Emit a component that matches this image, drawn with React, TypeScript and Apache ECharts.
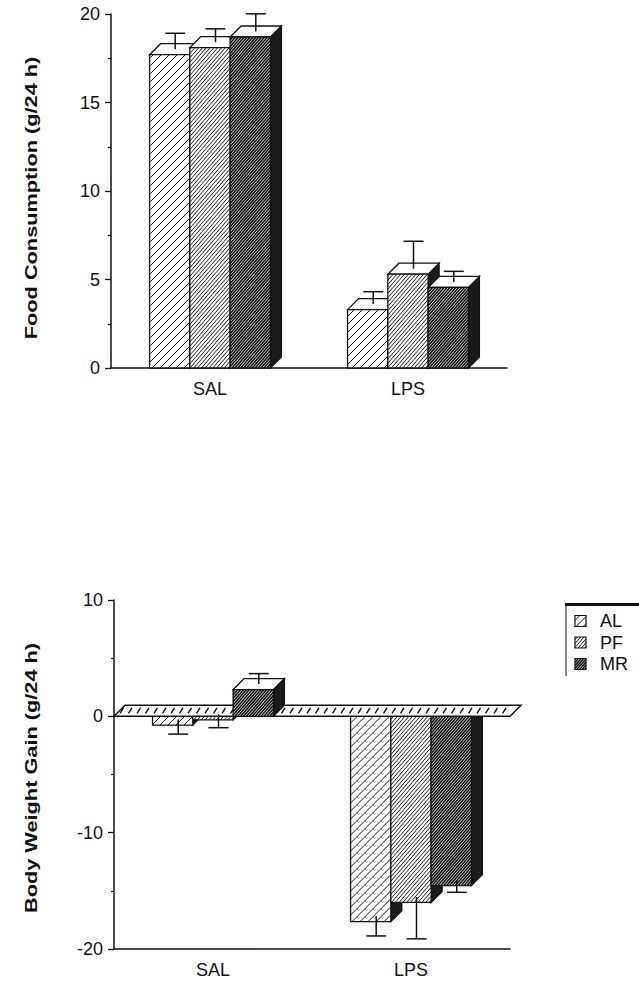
import React, { useEffect, useRef } from 'react';
import * as echarts from 'echarts';

// ---------- data ----------
const categories = ['SAL', 'LPS'];
const groups = ['AL', 'PF', 'MR'];

const foodTicks = [0, 5, 10, 15, 20];
const gainTicks = [-20, -10, 0, 10];

const foodAL = [17.7, 3.3];
const foodPF = [18.1, 5.3];
const foodMR = [18.7, 4.55];
const foodErrAL = [0.9, 0.7];
const foodErrPF = [0.75, 1.55];
const foodErrMR = [1.0, 0.6];

const gainAL = [-0.75, -17.65];
const gainPF = [-0.3, -16.0];
const gainMR = [2.3, -14.55];
const gainErrAL = [1.25, 1.7];
const gainErrPF = [1.15, 3.6];
const gainErrMR = [0.9, 1.05];

const foodTitle = 'Food Consumption (g/24 h)';
const gainTitle = 'Body Weight Gain (g/24 h)';

// ---------- style ----------
const FONT = '"Liberation Sans", Arial, Helvetica, sans-serif';
const INK = '#111';
const DEPTH = 11;
const BAR_FRAC = 0.2035;
const CAP = 10;
const HATCH = [
  { spacing: 8, width: 1.0, slope: 1.0 },
  { spacing: 3.8, width: 0.95, slope: 1.15 },
  { spacing: 2.9, width: 1.6, slope: 1.15 },
];

function hatchSegments(x0: number, y0: number, x1: number, y1: number, spacing: number, slope: number) {
  const segs: number[][] = [];
  const span = (y1 - y0) / slope;
  const start = Math.floor((x0 - span) / spacing) * spacing;
  for (let u = start; u <= x1; u += spacing) {
    const tlo = Math.max(0, x0 - u);
    const thi = Math.min(span, x1 - u);
    if (thi - tlo < 0.4) continue;
    segs.push([u + tlo, y1 - slope * tlo, u + thi, y1 - slope * thi]);
  }
  return segs;
}

function segsToPath(segs: number[][]) {
  return segs
    .map((s) => `M${s[0].toFixed(2)} ${s[1].toFixed(2)}L${s[2].toFixed(2)} ${s[3].toFixed(2)}`)
    .join('');
}

function makeBarRenderer(gi: number) {
  return (params: any, api: any) => {
    const ci = api.value(0);
    const v = api.value(1);
    const se = api.value(2);
    const band = api.size([1, 0])[0];
    const bw = band * BAR_FRAC;
    const c = api.coord([ci, v]);
    const yv = c[1];
    const y0 = api.coord([ci, 0])[1];
    const x0 = c[0] + (gi - 1.5) * bw;
    const x1 = x0 + bw;
    const d = DEPTH;
    const pos = v >= 0;
    const base = (pos ? 100 : 10) + gi * 6;
    const top = Math.min(yv, y0);
    const bot = Math.max(yv, y0);
    const p = HATCH[gi];
    const children: any[] = [];
    children.push({
      type: 'polygon',
      shape: { points: [[x1, yv], [x1 + d, yv - d], [x1 + d, y0 - d], [x1, y0]] },
      style: { fill: '#1a1a1a', stroke: INK, lineWidth: 1.2 },
      z2: base,
    });
    if (pos) {
      children.push({
        type: 'polygon',
        shape: { points: [[x0, yv], [x0 + d, yv - d], [x1 + d, yv - d], [x1, yv]] },
        style: { fill: '#fff', stroke: INK, lineWidth: 1.3 },
        z2: base + 1,
      });
    }
    children.push({
      type: 'rect',
      shape: { x: x0, y: top, width: bw, height: bot - top },
      style: { fill: '#fff', stroke: null },
      z2: base + 2,
    });
    children.push({
      type: 'path',
      shape: { pathData: segsToPath(hatchSegments(x0, top, x1, bot, p.spacing, p.slope)) },
      style: { fill: null, stroke: INK, lineWidth: p.width },
      z2: base + 3,
    });
    children.push({
      type: 'rect',
      shape: { x: x0, y: top, width: bw, height: bot - top },
      style: { fill: null, stroke: INK, lineWidth: 1.3 },
      z2: base + 4,
    });
    const ex = (x0 + x1) / 2 + d / 2;
    const ey0 = yv - d / 2;
    const ey1 = api.coord([ci, pos ? v + se : v - se])[1] - d / 2;
    children.push({
      type: 'line',
      shape: { x1: ex, y1: ey0, x2: ex, y2: ey1 },
      style: { stroke: INK, lineWidth: 1.5 },
      z2: 300,
    });
    children.push({
      type: 'line',
      shape: { x1: ex - CAP, y1: ey1, x2: ex + CAP, y2: ey1 },
      style: { stroke: INK, lineWidth: 1.5 },
      z2: 300,
    });
    return { type: 'group', children };
  };
}

function slabRenderer(params: any, api: any) {
  const cs = params.coordSys;
  const y0 = api.coord([0, 0])[1];
  const d = DEPTH;
  const xl = cs.x;
  const xr = cs.x + cs.width;
  let marks = '';
  for (let x = xl + 6; x < xr - 1; x += 8.5) {
    marks += `M${x.toFixed(2)} ${(y0 - 3).toFixed(2)}L${(x + 3.5).toFixed(2)} ${(y0 - 8.5).toFixed(2)}`;
  }
  return {
    type: 'group',
    children: [
      {
        type: 'polygon',
        shape: { points: [[xl, y0], [xl + d, y0 - d], [xr + d, y0 - d], [xr, y0]] },
        style: { fill: '#fff', stroke: INK, lineWidth: 1.5 },
        z2: 50,
      },
      {
        type: 'path',
        shape: { pathData: marks },
        style: { fill: null, stroke: INK, lineWidth: 1.4 },
        z2: 51,
      },
    ],
  };
}

function barSeries(gridIndex: number, gi: number, means: number[], errs: number[]) {
  return {
    type: 'custom',
    name: groups[gi],
    xAxisIndex: gridIndex,
    yAxisIndex: gridIndex,
    clip: false,
    renderItem: makeBarRenderer(gi),
    encode: { x: 0, y: 1 },
    data: means.map((m, i) => [i, m, errs[i]]),
  };
}

function xAxisCfg(gridIndex: number) {
  return {
    type: 'category',
    gridIndex,
    data: categories,
    axisLine: { onZero: false, lineStyle: { color: INK, width: 1.5 } },
    axisTick: { alignWithLabel: true, length: 6, lineStyle: { color: INK, width: 1.3 } },
    axisLabel: { fontSize: 18, fontFamily: FONT, color: INK, margin: 12 },
    splitLine: { show: false },
  };
}

function yAxisCfg(gridIndex: number, ticks: number[]) {
  return {
    type: 'value',
    gridIndex,
    min: ticks[0],
    max: ticks[ticks.length - 1],
    interval: ticks[1] - ticks[0],
    axisLine: { show: true, onZero: false, lineStyle: { color: INK, width: 1.5 } },
    axisTick: { show: true, length: 6, lineStyle: { color: INK, width: 1.3 } },
    minorTick: { show: true, splitNumber: 2, length: 3, lineStyle: { color: INK, width: 1.2 } },
    axisLabel: { fontSize: 18, fontFamily: FONT, color: INK, margin: 11 },
    splitLine: { show: false },
  };
}

function legendGraphics() {
  const els: any[] = [
    { type: 'line', shape: { x1: 565, y1: 604.5, x2: 639, y2: 604.5 }, style: { stroke: INK, lineWidth: 3 } },
    { type: 'line', shape: { x1: 566, y1: 604, x2: 566, y2: 676 }, style: { stroke: INK, lineWidth: 1 } },
  ];
  groups.forEach((g, gi) => {
    const cy = 621 + gi * 21.5;
    const ix = 575;
    const iy = cy - 5.5;
    const s = 11;
    els.push({ type: 'rect', shape: { x: ix, y: iy, width: s, height: s }, style: { fill: '#fff', stroke: null } });
    hatchSegments(ix, iy, ix + s, iy + s, HATCH[gi].spacing * 0.9, HATCH[gi].slope).forEach((sg) =>
      els.push({
        type: 'line',
        shape: { x1: sg[0], y1: sg[1], x2: sg[2], y2: sg[3] },
        style: { stroke: INK, lineWidth: HATCH[gi].width },
      })
    );
    els.push({ type: 'rect', shape: { x: ix, y: iy, width: s, height: s }, style: { fill: null, stroke: INK, lineWidth: 1.2 } });
    els.push({
      type: 'text',
      x: 600,
      y: cy,
      style: {
        text: g,
        fontSize: 18,
        fontFamily: FONT,
        fill: INK,
        align: 'left',
        verticalAlign: 'middle',
        textAlign: 'left',
        textVerticalAlign: 'middle',
      },
    });
  });
  return els;
}

function titleGraphic(text: string, x: number, y: number) {
  return {
    type: 'text',
    x,
    y,
    rotation: Math.PI / 2,
    scaleX: 1.36,
    style: {
      text,
      fontSize: 16,
      fontWeight: 'bold',
      fontFamily: FONT,
      fill: INK,
      align: 'center',
      verticalAlign: 'middle',
      textAlign: 'center',
      textVerticalAlign: 'middle',
    },
  };
}

export default function App() {
  const ref = useRef<HTMLDivElement>(null);
  useEffect(() => {
    if (!ref.current) return;
    const chart = echarts.init(ref.current, undefined, { renderer: 'svg' });
    const option: any = {
      animation: false,
      backgroundColor: '#fff',
      grid: [
        { left: 111, top: 14, width: 396, height: 354 },
        { left: 114, top: 600, width: 396, height: 349 },
      ],
      xAxis: [xAxisCfg(0), xAxisCfg(1)],
      yAxis: [yAxisCfg(0, foodTicks), yAxisCfg(1, gainTicks)],
      graphic: [
        titleGraphic(foodTitle, 32, 198),
        titleGraphic(gainTitle, 32, 778),
        ...legendGraphics(),
      ],
      series: [
        barSeries(0, 0, foodAL, foodErrAL),
        barSeries(0, 1, foodPF, foodErrPF),
        barSeries(0, 2, foodMR, foodErrMR),
        {
          type: 'custom',
          name: 'zero',
          xAxisIndex: 1,
          yAxisIndex: 1,
          clip: false,
          renderItem: slabRenderer,
          encode: { x: 0, y: 1 },
          data: [[0, 0]],
        },
        barSeries(1, 0, gainAL, gainErrAL),
        barSeries(1, 1, gainPF, gainErrPF),
        barSeries(1, 2, gainMR, gainErrMR),
      ],
    };
    chart.setOption(option);
    return () => chart.dispose();
  }, []);
  return (
    <div
      ref={ref}
      style={{ position: 'fixed', left: 0, top: 0, width: 639, height: 983, background: '#fff' }}
    />
  );
}
